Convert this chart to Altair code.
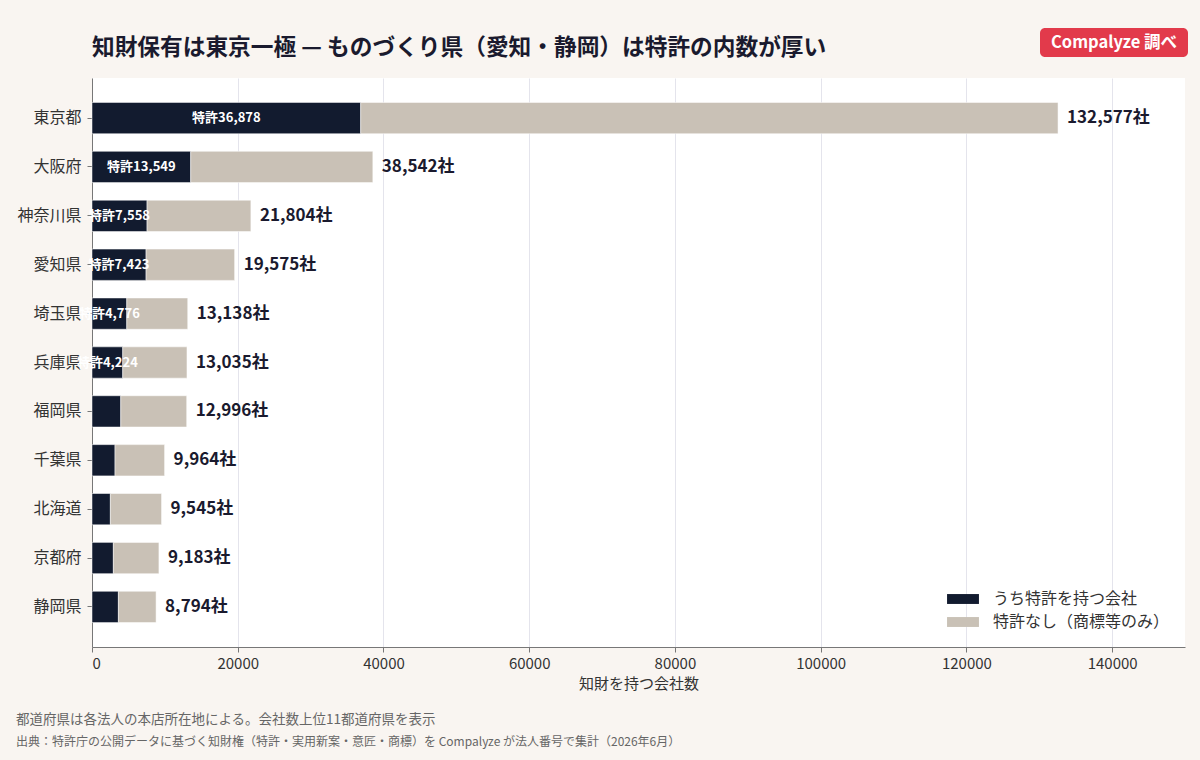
import altair as alt
import pandas as pd

prefs = ["東京都", "大阪府", "神奈川県", "愛知県", "埼玉県", "兵庫県", "福岡県", "千葉県", "北海道", "京都府", "静岡県"]
totals = [132577, 38542, 21804, 19575, 13138, 13035, 12996, 9964, 9545, 9183, 8794]
patents = [36878, 13549, 7558, 7423, 4776, 4224, 3950, 3160, 2520, 2930, 3620]
series_names = ["うち特許を持つ会社", "特許なし（商標等のみ）"]
series_colors = ["#121b2f", "#c9c1b6"]

FONT = "Noto Sans CJK JP"

rows = []
for p, t, pt in zip(prefs, totals, patents):
    rows.append({"pref": p, "series": series_names[0], "value": pt, "ord": 0})
    rows.append({"pref": p, "series": series_names[1], "value": t - pt, "ord": 1})
long_df = pd.DataFrame(rows)
wide_df = pd.DataFrame({"pref": prefs, "total": totals, "patent": patents})

xscale = alt.Scale(domain=[0, 150000], nice=False, zero=True)
yscale = alt.Scale(domain=prefs, paddingInner=0.36, paddingOuter=0.5)

bars = alt.Chart(long_df).mark_bar(stroke="#ffffff", strokeWidth=0.5).encode(
    y=alt.Y("pref:N", scale=yscale, sort=prefs, title=None),
    x=alt.X("value:Q", stack="zero", scale=xscale, title="知財を持つ会社数",
            axis=alt.Axis(values=[0, 20000, 40000, 60000, 80000, 100000, 120000, 140000],
                          format="d", grid=True)),
    color=alt.Color("series:N", scale=alt.Scale(domain=series_names, range=series_colors),
                    legend=alt.Legend(title=None, orient="none", legendX=860, legendY=510,
                                      symbolType="M-1.45,-0.45H1.45V0.45H-1.45Z",
                                      symbolSize=484, symbolStrokeWidth=0,
                                      labelOffset=19, rowPadding=4, labelLimit=400,
                                      labelFontSize=16, labelColor="#333333", labelFont=FONT)),
    order=alt.Order("ord:Q"),
)

total_labels = alt.Chart(wide_df).transform_calculate(
    lbl="format(datum.total, ',') + '社'"
).mark_text(align="left", baseline="middle", dx=9, fontSize=17, fontWeight="bold",
            color="#1a1a2e", font=FONT).encode(
    y=alt.Y("pref:N", scale=yscale, sort=prefs),
    x=alt.X("total:Q", scale=xscale),
    text="lbl:N",
)

inner_labels = alt.Chart(wide_df).transform_window(
    rk="rank()", sort=[alt.SortField("total", order="descending")]
).transform_filter("datum.rk <= 6").transform_calculate(
    mid="datum.patent / 2",
    lbl="'特許' + format(datum.patent, ',')",
).mark_text(align="center", baseline="middle", fontSize=13, fontWeight="bold",
            color="#ffffff", font=FONT).encode(
    y=alt.Y("pref:N", scale=yscale, sort=prefs),
    x=alt.X("mid:Q", scale=xscale),
    text="lbl:N",
)

one = pd.DataFrame({"a": [0]})

title = alt.Chart(one).mark_text(align="left", baseline="middle", fontSize=22.7, fontWeight="bold",
                                 color="#1a1a2e", font=FONT).encode(
    x=alt.value(0), y=alt.value(-30),
    text=alt.value("知財保有は東京一極 — ものづくり県（愛知・静岡）は特許の内数が厚い"))

badge = alt.Chart(one).mark_rect(cornerRadius=5, color="#e23a4b").encode(
    x=alt.value(948), x2=alt.value(1096), y=alt.value(-50), y2=alt.value(-21))

badge_text = alt.Chart(one).mark_text(align="center", baseline="middle", fontSize=16.5,
                                      fontWeight="bold", color="#ffffff", font=FONT).encode(
    x=alt.value(1022), y=alt.value(-35.5), text=alt.value("Compalyze 調べ"))

foot1 = alt.Chart(one).mark_text(align="left", baseline="middle", fontSize=13.5,
                                 color="#666666", font=FONT).encode(
    x=alt.value(-76), y=alt.value(642),
    text=alt.value("都道府県は各法人の本店所在地による。会社数上位11都道府県を表示"))

foot2 = alt.Chart(one).mark_text(align="left", baseline="middle", fontSize=12,
                                 color="#666666", font=FONT).encode(
    x=alt.value(-76), y=alt.value(664),
    text=alt.value("出典：特許庁の公開データに基づく知財権（特許・実用新案・意匠・商標）を Compalyze が法人番号で集計（2026年6月）"))

chart = alt.layer(bars, inner_labels, total_labels, title, badge, badge_text, foot1, foot2).properties(
    width=1093, height=569,
    autosize=alt.AutoSizeParams(type="none"),
    padding={"left": 92, "top": 78, "right": 15, "bottom": 113},
    background="#f9f5f1",
).configure_view(
    fill="#ffffff", stroke=None,
).configure_axis(
    labelFont=FONT, titleFont=FONT, labelColor="#333333", titleColor="#333333",
    domainColor="#777777", tickColor="#777777", tickSize=5, gridColor="#e4e4ec",
    titleFontWeight="normal",
).configure_axisX(
    labelFontSize=15, titleFontSize=15, labelPadding=4, titlePadding=5,
).configure_axisY(
    labelFontSize=16, labelPadding=6, grid=False,
)

chart.save("out.html", embed_options={"renderer": "svg", "actions": False})
